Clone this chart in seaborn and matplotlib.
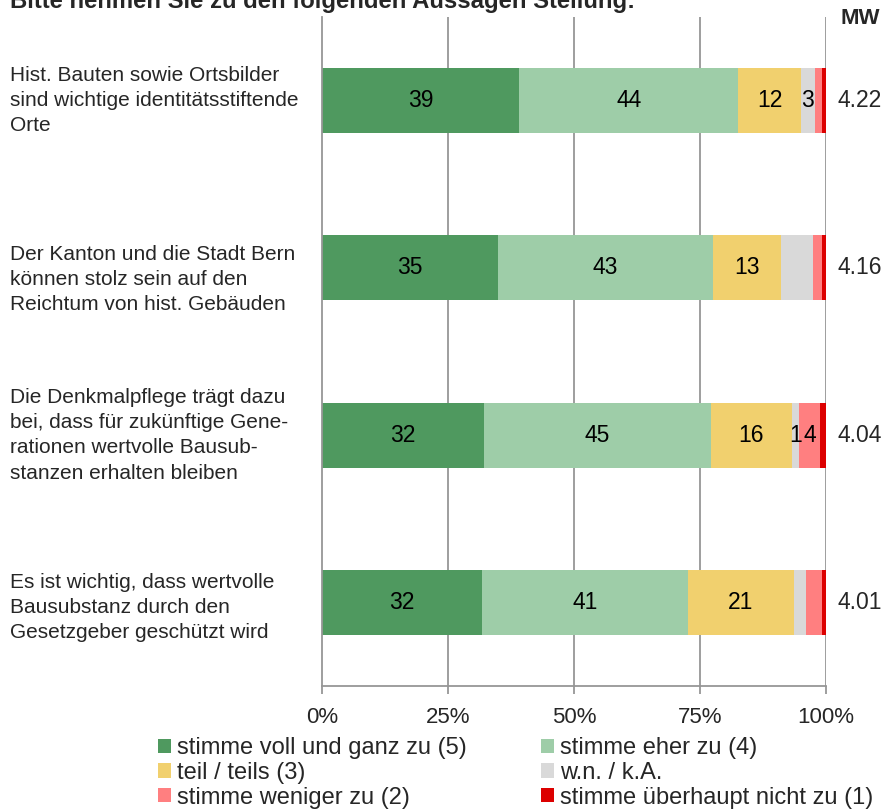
import matplotlib
matplotlib.use("Agg")
import matplotlib.pyplot as plt
import matplotlib.transforms as mtransforms
from matplotlib.patches import Patch
import numpy as np
import pandas as pd
import seaborn as sns

# --- data ---
statements = [
    "Hist. Bauten sowie Ortsbilder\nsind wichtige identitätsstiftende\nOrte",
    "Der Kanton und die Stadt Bern\nkönnen stolz sein auf den\nReichtum von hist. Gebäuden",
    "Die Denkmalpflege trägt dazu\nbei, dass für zukünftige Gene-\nrationen wertvolle Bausub-\nstanzen erhalten bleiben",
    "Es ist wichtig, dass wertvolle\nBausubstanz durch den\nGesetzgeber geschützt wird",
]
categories = [
    "stimme voll und ganz zu (5)",
    "stimme eher zu (4)",
    "teil / teils (3)",
    "w.n. / k.A.",
    "stimme weniger zu (2)",
    "stimme überhaupt nicht zu (1)",
]
voll = [39.1, 34.9, 32.1, 31.7]
eher = [43.5, 42.7, 45.0, 40.9]
teils = [12.4, 13.4, 16.2, 21.0]
wn_ka = [2.8, 6.4, 1.4, 2.4]
weniger = [1.4, 1.8, 4.1, 3.2]
gar_nicht = [0.8, 0.8, 1.2, 0.8]

# printed labels per segment ("" = not printed in the source chart)
lab_voll = ["39", "35", "32", "32"]
lab_eher = ["44", "43", "45", "41"]
lab_teils = ["12", "13", "16", "21"]
lab_wn = ["3", "", "1", ""]
lab_weniger = ["", "", "4", ""]
lab_gar = ["", "", "", ""]

mean_values = ["4.22", "4.16", "4.04", "4.01"]

colors = ["#4F995F", "#9ECDA8", "#F1D06E", "#D9D9D9", "#FF7F80", "#DC0000"]

sns.set_theme(style="white")
plt.rcParams["font.family"] = ["Liberation Sans", "DejaVu Sans"]

segments = [voll, eher, teils, wn_ka, weniger, gar_nicht]
seg_labels = [lab_voll, lab_eher, lab_teils, lab_wn, lab_weniger, lab_gar]

df = pd.DataFrame(dict(zip(categories, segments)), index=statements)
cum = df.cumsum(axis=1)

fig = plt.figure(figsize=(8.86, 8.10), dpi=100)
ax = fig.add_axes([322 / 886, 124 / 810, 504 / 886, 669 / 810])

# stacked bars: draw cumulative totals from the largest down so each overlays the previous
for cat, col in reversed(list(zip(categories, colors))):
    sns.barplot(x=cum[cat].values, y=statements, orient="h", color=col,
                width=0.39, saturation=1, linewidth=0, ax=ax)

ax.set_xlim(0, 100)
ax.set_ylim(3.5, -0.5)
ax.set_xticks([0, 25, 50, 75, 100])
ax.set_xticklabels(["0%", "25%", "50%", "75%", "100%"], fontsize=16)
ax.set_yticks([])
ax.set_xlabel("")
ax.set_ylabel("")
ax.grid(False)
for x in [25, 50, 75, 100]:
    ax.axvline(x, color="#969696", lw=1.3, zorder=0)
for s in ["top", "right"]:
    ax.spines[s].set_visible(False)
ax.spines["left"].set_color("#969696")
ax.spines["left"].set_linewidth(1.3)
ax.spines["bottom"].set_color("#969696")
ax.spines["bottom"].set_linewidth(1.3)
ax.tick_params(axis="x", bottom=True, length=6, width=1.3, color="#969696", pad=9)

# segment value labels
for seg, labs, cat in zip(segments, seg_labels, categories):
    for i, (v, lab) in enumerate(zip(seg, labs)):
        if lab:
            ax.text(cum[cat].iloc[i] - v / 2, i, lab, ha="center", va="center",
                    fontsize=16.5, color="black")

# statement labels on the left, means on the right
trans_left = mtransforms.blended_transform_factory(fig.transFigure, ax.transData)
label_shift = [0.0, 0.07, 0.0, 0.03]
for i, text in enumerate(statements):
    fig.text(10 / 886, i + label_shift[i], text, transform=trans_left,
             ha="left", va="center", fontsize=15, linespacing=1.42)
for i, m in enumerate(mean_values):
    fig.text(837 / 886, i, m, transform=trans_left, ha="left", va="center", fontsize=16.5)

fig.text(840 / 886, 1 - 19 / 810, "MW", ha="left", va="center", fontsize=16, fontweight="bold")
# the heading sits partly above the canvas edge, as in the source image
fig.text(10 / 886, 1 - 8 / 810, "Bitte nehmen Sie zu den folgenden Aussagen Stellung:",
         ha="left", va="baseline", fontsize=17.2, fontweight="bold")

# legend
order = [0, 2, 4, 1, 3, 5]
handles = [Patch(facecolor=colors[k], edgecolor="none") for k in order]
fig.legend(handles, [categories[k] for k in order], ncol=2, frameon=False,
           loc="upper left", bbox_to_anchor=(158 / 886, 1 - 737 / 810),
           fontsize=17, handlelength=0.55, handleheight=0.55, handletextpad=0.25,
           labelspacing=0.12, columnspacing=3.15, borderpad=0, borderaxespad=0)

fig.savefig("out.png", dpi=100)
